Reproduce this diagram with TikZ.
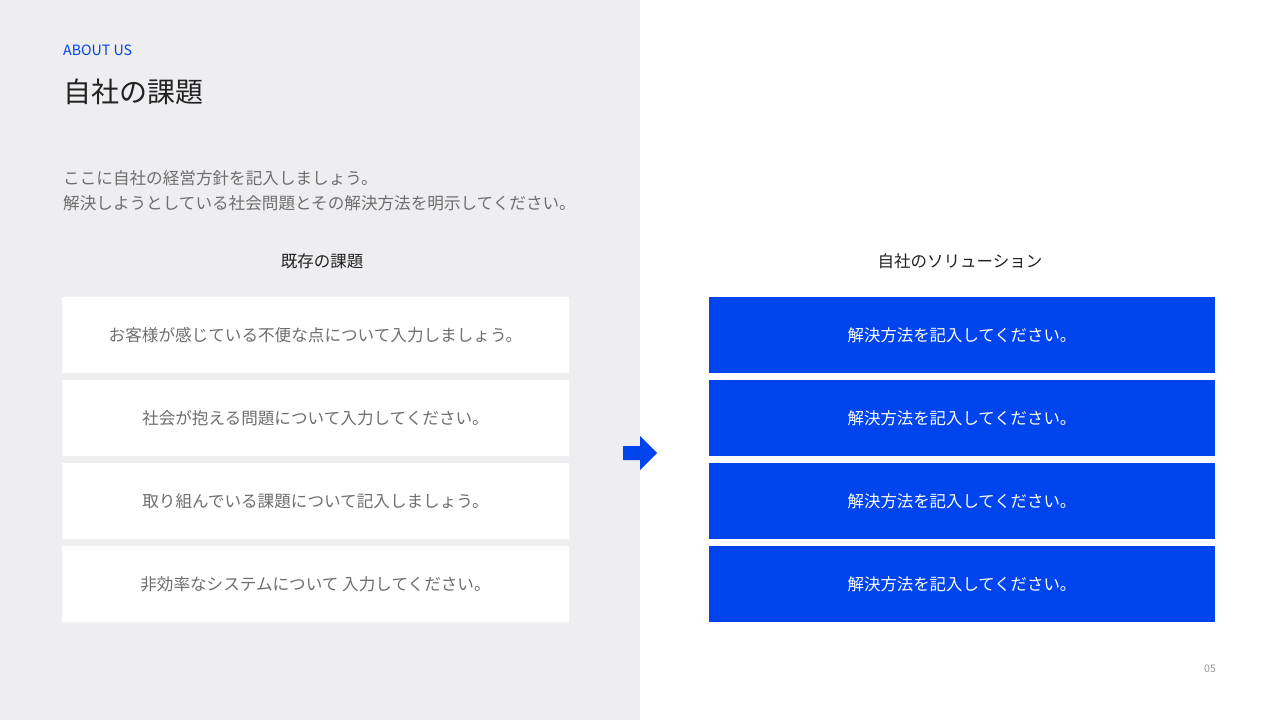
\documentclass[tikz,border=0pt]{standalone}
\usepackage{fontspec}
\setmainfont{Noto Sans CJK JP}
\usetikzlibrary{positioning}
\definecolor{panelgray}{RGB}{238,237,240}
\definecolor{brandblue}{RGB}{0,68,238}
\definecolor{titlegray}{RGB}{34,34,34}
\definecolor{textgray}{RGB}{110,110,110}
\tikzset{
  issuebox/.style={fill=white, minimum width=507pt, minimum height=76pt, inner sep=0pt,
    text=textgray, font=\fontsize{16.6}{20}\selectfont},
  solutionbox/.style={fill=brandblue, minimum width=506pt, minimum height=76pt, inner sep=0pt,
    text=white, font=\fontsize{16.4}{20}\selectfont},
  colhead/.style={text=titlegray, font=\fontsize{16.5}{20}\selectfont},
}
\begin{document}
\begin{tikzpicture}[x=1pt, y=-1pt]
    \useasboundingbox (0,0) rectangle (1280,720);
    \fill[white] (0,0) rectangle (1280,720);
    \fill[panelgray] (0,0) rectangle (640,720);
    \node[anchor=west, text=brandblue, font=\fontsize{14.2}{17}\selectfont, inner sep=0pt] (about) at (63,50) {ABOUT US};
    \node[anchor=west, text=titlegray, font=\fontsize{28}{33}\selectfont, inner sep=0pt] (title) at (63,92) {自社の課題};
    \node[anchor=west, text=textgray, font=\fontsize{16.6}{20}\selectfont, inner sep=0pt] (lead1) at (63,178)
        {ここに自社の経営方針を記入しましょう。};
    \node[anchor=west, text=textgray, font=\fontsize{16.6}{20}\selectfont, inner sep=0pt] (lead2) at (63,203)
        {解決しようとしている社会問題とその解決方法を明示してください。};
    \node[colhead] (lefthead) at (322,261) {既存の課題};
    \node[colhead] (righthead) at (960,261) {自社のソリューション};
    % left column
    \foreach \i/\txt in {1/お客様が感じている不便な点について入力しましょう。,
                         2/社会が抱える問題について入力してください。,
                         3/取り組んでいる課題について記入しましょう。,
                         4/非効率なシステムについて 入力してください。}{
        \fill[black!6] (62,{297+83*(\i-1)+1.5}) rectangle (569.5,{373+83*(\i-1)+1.5});
        \node[issuebox] (issue\i) at (315.5,{335+83*(\i-1)}) {\txt};
    }
    % right column
    \foreach \i in {1,...,4}{
        \node[solutionbox] (solution\i) at (962,{335+83*(\i-1)}) {解決方法を記入してください。};
    }
    \fill[brandblue] (623,446) -- (640,446) -- (640,436) -- (657,453) -- (640,470) -- (640,460) -- (623,460) -- cycle;
    \node[text=black!40, font=\fontsize{10.5}{12}\selectfont, inner sep=0pt] (pagenum) at (1210,669) {05};
\end{tikzpicture}
\end{document}
